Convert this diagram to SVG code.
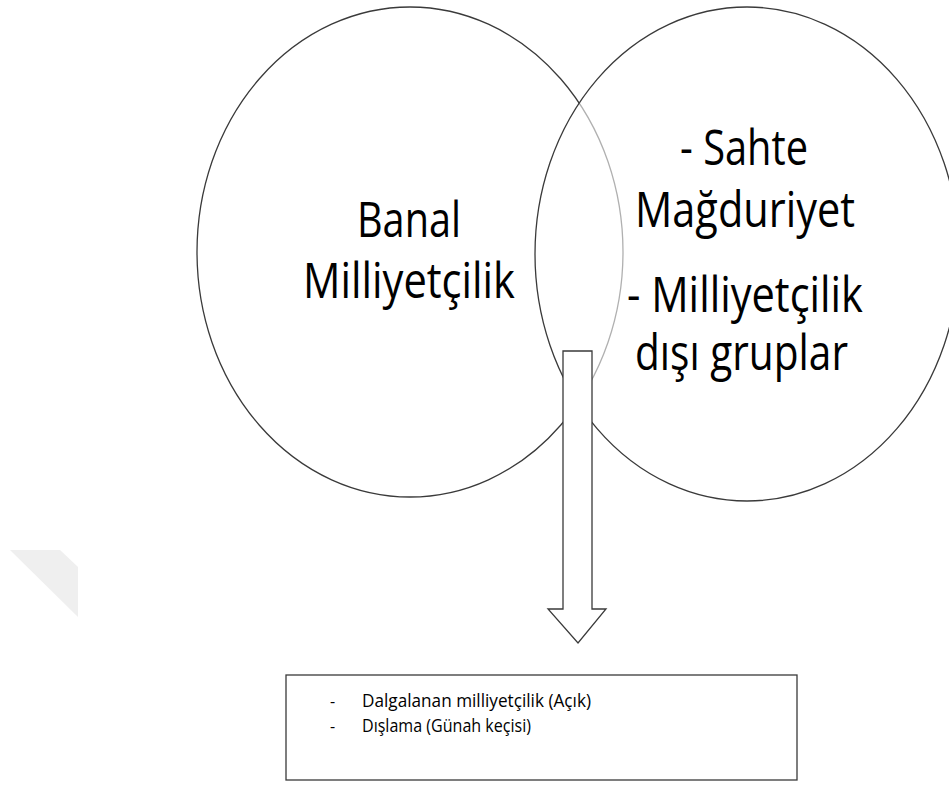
<svg xmlns="http://www.w3.org/2000/svg" width="949" height="787" viewBox="0 0 949 787">
<style>
.shape{stroke:#3a3a3a;stroke-width:1.3}
.big{font-family:"Open Sans","Liberation Sans",sans-serif;font-size:41px;fill:#000}
.small{font-family:"Open Sans","Liberation Sans",sans-serif;font-size:16px;fill:#000}
</style>
<rect width="949" height="787" fill="#fff"/>
<polygon points="10,550 60,550 78,567 78,617" fill="#efefef"/>
<g id="banal">
<ellipse class="shape" cx="410" cy="252" rx="213" ry="245" fill="none"/>
<text class="big" transform="translate(357,237) scale(1,1.2)" textLength="104" lengthAdjust="spacingAndGlyphs">Banal</text>
<text class="big" transform="translate(303,298) scale(1,1.2)" textLength="212" lengthAdjust="spacingAndGlyphs">Milliyetçilik</text>
</g>
<g id="sahte">
<ellipse class="shape" cx="747" cy="254" rx="212" ry="247" fill="#fff" fill-opacity="0.6"/>
<text class="big" transform="translate(680,165) scale(1,1.2)" textLength="128" lengthAdjust="spacingAndGlyphs">- Sahte</text>
<text class="big" transform="translate(635,227) scale(1,1.2)" textLength="220" lengthAdjust="spacingAndGlyphs">Mağduriyet</text>
<text class="big" transform="translate(627,312) scale(1,1.2)" textLength="236" lengthAdjust="spacingAndGlyphs">- Milliyetçilik</text>
<text class="big" transform="translate(635,370) scale(1,1.2)" textLength="213" lengthAdjust="spacingAndGlyphs">dışı gruplar</text>
</g>
<g id="connectors">
<path class="shape" d="M563,351 H592 V609 H606 L578,643 L548,609 H563 Z" fill="#fff" stroke-linejoin="miter"/>
</g>
<g id="result">
<rect class="shape" x="286" y="675" width="511" height="105" fill="#fff"/>
<text class="small" x="330" y="707">-</text>
<text class="small" transform="translate(362,707) scale(1,1.15)" textLength="229" lengthAdjust="spacingAndGlyphs">Dalgalanan milliyetçilik (Açık)</text>
<text class="small" x="330" y="732">-</text>
<text class="small" transform="translate(362,732) scale(1,1.15)" textLength="169" lengthAdjust="spacingAndGlyphs">Dışlama (Günah keçisi)</text>
</g>
</svg>
